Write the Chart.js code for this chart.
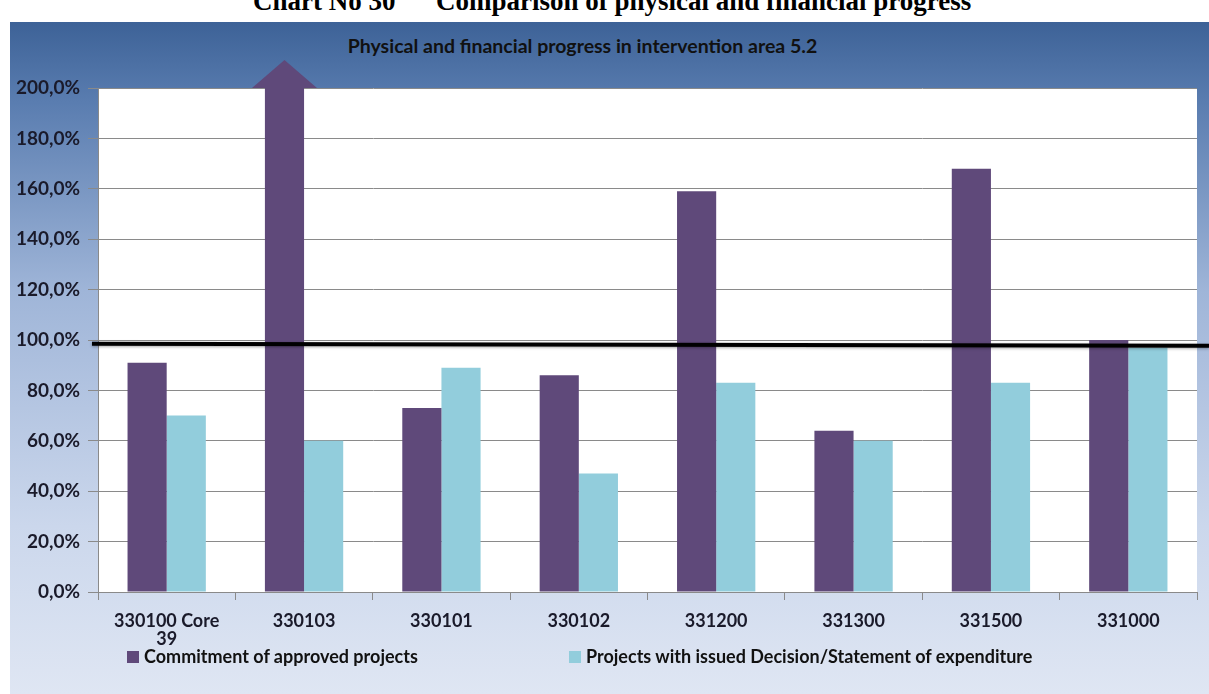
<!DOCTYPE html>
<html>
<head>
<meta charset="utf-8">
<script src="https://cdn.jsdelivr.net/npm/chart.js@4/dist/chart.umd.min.js"></script>
<style>
  body { margin: 0; background: #fff; width: 1209px; height: 694px; overflow: hidden; position: relative; }
  #caption { position: absolute; left: 253px; top: -14px; font: bold 27px "Liberation Serif", serif; line-height: 30px; white-space: pre; color: #000; }
  #frame { position: absolute; left: 10px; top: 22px; width: 1199px; height: 672px;
    background: linear-gradient(to bottom, #3d6297 0%, #5a7db0 12%, #9fb5d8 40%, #cbd7ec 75%, #dfe6f3 100%); }
  #title { position: absolute; left: 10px; width: 1145px; top: 34px; text-align: center;
    font: bold 19.5px Lato, "Open Sans", sans-serif; color: #111; }
  canvas { position: absolute; left: 0; top: 0; }
  #legend { position: absolute; top: 645px; left: 127px; font: bold 18px Lato, "Open Sans", sans-serif; color: #111; }
  #legend span.item { position: absolute; white-space: nowrap; }
  #legend i { display: inline-block; width: 12px; height: 12px; margin-right: 5px; }
</style>
</head>
<body>
<div id="caption">Chart No 30      Comparison of physical and financial progress</div>
<div id="frame"></div>
<div id="title">Physical and financial progress in intervention area 5.2</div>
<canvas id="progressChart" width="1209" height="694"></canvas>
<div id="legend"></div>
<script>
const categories = [
  ["330100 Core", "39"], "330103", "330101", "330102", "331200", "331300", "331500", "331000"
];
// % values; 330103 runs off the top of the scale (arrow)
const commitment = [91, 200, 73, 86, 159, 64, 168, 100];
const issuedDecisions = [70, 60, 89, 47, 83, 60, 83, 97];
const seriesNames = [
  "Commitment of approved projects",
  "Projects with issued Decision/Statement of expenditure"
];
const yTicks = [0, 20, 40, 60, 80, 100, 120, 140, 160, 180, 200];
const targetLine = 98.5;
const overflowIndex = 1;

const purple = "#5f497a";
const lightBlue = "#92cddc";

let ctx = document.getElementById("progressChart").getContext("2d");

const plotBackground = {
  id: "plotBackground",
  beforeDraw(chart) {
    const a = chart.chartArea;
    const c = chart.ctx;
    c.save();
    c.fillStyle = "#ffffff";
    c.fillRect(a.left, a.top, a.right - a.left, a.bottom - a.top);
    c.restore();
  }
};

const extras = {
  id: "extras",
  afterDatasetsDraw(chart) {
    const c = chart.ctx;
    const a = chart.chartArea;
    const y = chart.scales.y.getPixelForValue(targetLine);
    // thick black target line, runs out to the right edge
    c.save();
    c.shadowColor = "rgba(0,0,0,0.35)";
    c.shadowBlur = 3;
    c.shadowOffsetY = 1;
    c.strokeStyle = "#000";
    c.lineWidth = 4;
    c.beginPath();
    c.moveTo(a.left - 6, y);
    c.lineTo(chart.width, y + 2);
    c.stroke();
    c.restore();

    // arrow on the bar that goes off the scale
    const bar = chart.getDatasetMeta(0).data[overflowIndex];
    const half = bar.width * 0.83;
    c.save();
    c.fillStyle = purple;
    c.beginPath();
    c.moveTo(bar.x - half, a.top);
    c.lineTo(bar.x + half, a.top);
    c.lineTo(bar.x, a.top - 28);
    c.closePath();
    c.fill();
    c.restore();
  }
};

const yFont = { family: "Lato, 'Open Sans', sans-serif", size: 19, weight: "bold" };
const xFont = { family: "Lato, 'Open Sans', sans-serif", size: 18, weight: "bold", lineHeight: 1.0 };

var chart = new Chart(ctx, {
  type: "bar",
  data: {
    labels: categories,
    datasets: [
      { label: seriesNames[0], data: commitment, backgroundColor: purple, borderWidth: 0 },
      { label: seriesNames[1], data: issuedDecisions, backgroundColor: lightBlue, borderWidth: 0 }
    ]
  },
  options: {
    responsive: false,
    animation: false,
    layout: { padding: { left: 10, right: 12, top: 88, bottom: 34 } },
    plugins: {
      legend: { display: false },
      title: { display: false },
      tooltip: { enabled: false }
    },
    datasets: { bar: { categoryPercentage: 0.57, barPercentage: 1 } },
    scales: {
      x: {
        grid: { offset: true, drawOnChartArea: false, drawTicks: true, tickLength: 8, color: "#8a8a8a" },
        border: { color: "#8a8a8a" },
        ticks: { font: xFont, color: "#1a1a2a", padding: 12, maxRotation: 0 }
      },
      y: {
        min: 0,
        max: 200,
        afterBuildTicks: (s) => { s.ticks = yTicks.map(v => ({ value: v })); },
        afterFit: (s) => { s.width = 88; },
        grid: { color: "#8a8a8a", tickLength: 10 },
        border: { color: "#8a8a8a" },
        ticks: {
          font: yFont,
          color: "#1a1a2a",
          padding: 8,
          callback: (v) => v.toFixed(1).replace(".", ",") + "%"
        }
      }
    }
  },
  plugins: [plotBackground, extras]
});

// legend built from the same series names/colours
const legend = document.getElementById("legend");
const legendX = [0, 442];
[purple, lightBlue].forEach((col, i) => {
  const span = document.createElement("span");
  span.className = "item";
  span.style.left = legendX[i] + "px";
  span.innerHTML = '<i style="background:' + col + '"></i>' + seriesNames[i];
  legend.appendChild(span);
});
</script>
</body>
</html>
